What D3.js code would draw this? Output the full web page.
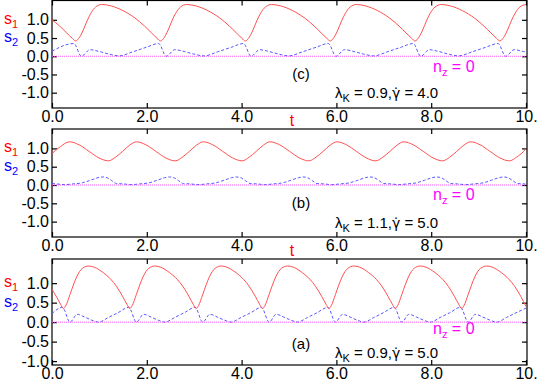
<!DOCTYPE html>
<html>
<head>
<meta charset="utf-8">
<script src="https://cdn.jsdelivr.net/npm/d3@7"></script>
<style>
  body { margin: 0; background: #fff; }
  text { font-family: "Liberation Sans", Arial, sans-serif; }
</style>
</head>
<body>
<div id="chart"></div>
<script>
var svgWidth = 554;
var svgHeight = 388;

// Axis ticks
var tTicks = [0, 2, 4, 6, 8, 10];
var tTickLabels = ["0.0", "2.0", "4.0", "6.0", "8.0", "10."];
var sTicks = [-1, -0.5, 0, 0.5, 1];
var sTickLabels = ["-1.0", "-0.5", "0.0", "0.5", "1.0"];

// Panel annotations, top to bottom
var panelTags = ["(c)", "(b)", "(a)"];
var lambdaK = ["0.9", "1.1", "0.9"];
var gammaDot = ["4.0", "5.0", "5.0"];

// Panel (c): lambda_K = 0.9, gamma-dot = 4.0   [t, value]
var cS1 = [[0,1.00],[0.16,0.83],[0.31,0.64],[0.43,0.49],
  [0.50,0.42],[0.58,0.52],[0.66,0.72],[0.74,0.97],[0.82,1.18],[0.92,1.35],[1.05,1.42],[1.25,1.38],[1.50,1.25],[1.75,1.05],[1.95,0.83],[2.10,0.64],[2.22,0.49],
  [2.29,0.42],[2.37,0.52],[2.45,0.72],[2.53,0.97],[2.61,1.18],[2.71,1.35],[2.84,1.42],[3.04,1.38],[3.29,1.25],[3.54,1.05],[3.74,0.83],[3.89,0.64],[4.01,0.49],
  [4.08,0.42],[4.16,0.52],[4.24,0.72],[4.32,0.97],[4.40,1.18],[4.50,1.35],[4.63,1.42],[4.83,1.38],[5.08,1.25],[5.33,1.05],[5.53,0.83],[5.68,0.64],[5.80,0.49],
  [5.87,0.42],[5.95,0.52],[6.03,0.72],[6.11,0.97],[6.19,1.18],[6.29,1.35],[6.42,1.42],[6.62,1.38],[6.87,1.25],[7.12,1.05],[7.32,0.83],[7.47,0.64],[7.59,0.49],
  [7.66,0.42],[7.74,0.52],[7.82,0.72],[7.90,0.97],[7.98,1.18],[8.08,1.35],[8.21,1.42],[8.41,1.38],[8.66,1.25],[8.91,1.05],[9.11,0.83],[9.26,0.64],[9.38,0.49],
  [9.45,0.42],[9.53,0.52],[9.61,0.72],[9.69,0.97],[9.77,1.18],[9.87,1.35],[10.0,1.42]];
var cS2 = [[0,0.14],
  [0.46,0.35],[0.62,0.00],[0.80,0.18],[1.00,0.13],[1.20,0.06],[1.42,0.01],[1.70,0.12],[2.00,0.25],
  [2.25,0.35],[2.41,0.00],[2.59,0.18],[2.79,0.13],[2.99,0.06],[3.21,0.01],[3.49,0.12],[3.79,0.25],
  [4.04,0.35],[4.20,0.00],[4.38,0.18],[4.58,0.13],[4.78,0.06],[5.00,0.01],[5.28,0.12],[5.58,0.25],
  [5.83,0.35],[5.99,0.00],[6.17,0.18],[6.37,0.13],[6.57,0.06],[6.79,0.01],[7.07,0.12],[7.37,0.25],
  [7.62,0.35],[7.78,0.00],[7.96,0.18],[8.16,0.13],[8.36,0.06],[8.58,0.01],[8.86,0.12],[9.16,0.25],
  [9.41,0.35],[9.57,0.00],[9.75,0.18],[9.95,0.13],[10.0,0.12]];

// Panel (b): lambda_K = 1.1, gamma-dot = 5.0
var bS1 = [[0,0.86],[0.15,1.02],
  [0.37,1.18],[0.57,1.10],[0.78,0.92],[0.99,0.74],[1.19,0.66],[1.34,0.76],[1.49,0.92],[1.64,1.09],
  [1.78,1.18],[1.98,1.10],[2.19,0.92],[2.40,0.74],[2.60,0.66],[2.75,0.76],[2.90,0.92],[3.05,1.09],
  [3.19,1.18],[3.39,1.10],[3.60,0.92],[3.81,0.74],[4.01,0.66],[4.16,0.76],[4.31,0.92],[4.46,1.09],
  [4.60,1.18],[4.80,1.10],[5.01,0.92],[5.22,0.74],[5.42,0.66],[5.57,0.76],[5.72,0.92],[5.87,1.09],
  [6.01,1.18],[6.21,1.10],[6.42,0.92],[6.63,0.74],[6.83,0.66],[6.98,0.76],[7.13,0.92],[7.28,1.09],
  [7.42,1.18],[7.62,1.10],[7.83,0.92],[8.04,0.74],[8.24,0.66],[8.39,0.76],[8.54,0.92],[8.69,1.09],
  [8.83,1.18],[9.03,1.10],[9.24,0.92],[9.45,0.74],[9.65,0.66],[9.80,0.76],[9.95,0.92],[10.0,1.00]];
var bS2 = [[0,0.04],[0.10,0.03],[0.27,0.01],
  [0.44,0.03],[0.64,0.06],[0.81,0.13],[0.97,0.20],[1.07,0.22],[1.16,0.20],[1.26,0.12],[1.36,0.04],[1.51,0.03],[1.67,0.01],
  [1.85,0.03],[2.05,0.06],[2.22,0.13],[2.38,0.20],[2.48,0.22],[2.57,0.20],[2.67,0.12],[2.77,0.04],[2.92,0.03],[3.08,0.01],
  [3.26,0.03],[3.46,0.06],[3.63,0.13],[3.79,0.20],[3.89,0.22],[3.98,0.20],[4.08,0.12],[4.18,0.04],[4.33,0.03],[4.49,0.01],
  [4.67,0.03],[4.87,0.06],[5.04,0.13],[5.20,0.20],[5.30,0.22],[5.39,0.20],[5.49,0.12],[5.59,0.04],[5.74,0.03],[5.90,0.01],
  [6.08,0.03],[6.28,0.06],[6.45,0.13],[6.61,0.20],[6.71,0.22],[6.80,0.20],[6.90,0.12],[7.00,0.04],[7.15,0.03],[7.31,0.01],
  [7.49,0.03],[7.69,0.06],[7.86,0.13],[8.02,0.20],[8.12,0.22],[8.21,0.20],[8.31,0.12],[8.41,0.04],[8.56,0.03],[8.72,0.01],
  [8.90,0.03],[9.10,0.06],[9.27,0.13],[9.43,0.20],[9.53,0.22],[9.62,0.20],[9.72,0.12],[9.82,0.04],[9.97,0.03],[10.0,0.02]];

// Panel (a): lambda_K = 0.9, gamma-dot = 5.0
var aS1 = [[0,0.84],[0.10,0.64],[0.18,0.46],
  [0.24,0.35],[0.29,0.42],[0.38,0.71],[0.45,0.95],[0.52,1.16],[0.64,1.38],[0.77,1.44],[0.89,1.41],[1.08,1.27],[1.24,1.10],[1.36,0.92],[1.49,0.66],[1.58,0.46],
  [1.64,0.35],[1.69,0.42],[1.78,0.71],[1.85,0.95],[1.92,1.16],[2.04,1.38],[2.17,1.44],[2.29,1.41],[2.48,1.27],[2.64,1.10],[2.76,0.92],[2.89,0.66],[2.98,0.46],
  [3.04,0.35],[3.09,0.42],[3.18,0.71],[3.25,0.95],[3.32,1.16],[3.44,1.38],[3.57,1.44],[3.69,1.41],[3.88,1.27],[4.04,1.10],[4.16,0.92],[4.29,0.66],[4.38,0.46],
  [4.44,0.35],[4.49,0.42],[4.58,0.71],[4.65,0.95],[4.72,1.16],[4.84,1.38],[4.97,1.44],[5.09,1.41],[5.28,1.27],[5.44,1.10],[5.56,0.92],[5.69,0.66],[5.78,0.46],
  [5.84,0.35],[5.89,0.42],[5.98,0.71],[6.05,0.95],[6.12,1.16],[6.24,1.38],[6.37,1.44],[6.49,1.41],[6.68,1.27],[6.84,1.10],[6.96,0.92],[7.09,0.66],[7.18,0.46],
  [7.24,0.35],[7.29,0.42],[7.38,0.71],[7.45,0.95],[7.52,1.16],[7.64,1.38],[7.77,1.44],[7.89,1.41],[8.08,1.27],[8.24,1.10],[8.36,0.92],[8.49,0.66],[8.58,0.46],
  [8.64,0.35],[8.69,0.42],[8.78,0.71],[8.85,0.95],[8.92,1.16],[9.04,1.38],[9.17,1.44],[9.29,1.41],[9.48,1.27],[9.64,1.10],[9.76,0.92],[9.89,0.66],[10.0,0.40]];
var aS2 = [[0,0.22],
  [0.22,0.38],[0.38,0.00],[0.53,0.20],[0.69,0.13],[0.84,0.05],[0.98,0.00],[1.19,0.12],[1.39,0.24],
  [1.62,0.38],[1.78,0.00],[1.93,0.20],[2.09,0.13],[2.24,0.05],[2.38,0.00],[2.59,0.12],[2.79,0.24],
  [3.02,0.38],[3.18,0.00],[3.33,0.20],[3.49,0.13],[3.64,0.05],[3.78,0.00],[3.99,0.12],[4.19,0.24],
  [4.42,0.38],[4.58,0.00],[4.73,0.20],[4.89,0.13],[5.04,0.05],[5.18,0.00],[5.39,0.12],[5.59,0.24],
  [5.82,0.38],[5.98,0.00],[6.13,0.20],[6.29,0.13],[6.44,0.05],[6.58,0.00],[6.79,0.12],[6.99,0.24],
  [7.22,0.38],[7.38,0.00],[7.53,0.20],[7.69,0.13],[7.84,0.05],[7.98,0.00],[8.19,0.12],[8.39,0.24],
  [8.62,0.38],[8.78,0.00],[8.93,0.20],[9.09,0.13],[9.24,0.05],[9.38,0.00],[9.59,0.12],[9.79,0.24],
  [10.0,0.36]];

// n_z stays at zero
var nzLine = [[0, 0], [10, 0]];

var s1Series = [cS1, bS1, aS1];
var s2Series = [cS2, bS2, aS2];

// Layout of the three stacked panels (pixels)
var left = 52, right = 527;
var panels = [
  { top: 0.5, bottom: 108, domain: [-1.42, 1.53], nzDy: 16, parY: 98 },
  { top: 129, bottom: 237, domain: [-1.42, 1.53], nzDy: 15, parY: 228 },
  { top: 259, bottom: 365, domain: [-1.10, 1.62], nzDy: 12, parY: 358 }
];

var svg = d3.select("#chart")
  .append("svg")
  .attr("width", svgWidth)
  .attr("height", svgHeight);

var xScale = d3.scaleLinear().domain([0, 10]).range([left, right - 1]);

panels.forEach(function(p, i) {
  var yScale = d3.scaleLinear().domain(p.domain).range([p.bottom, p.top]);
  var g = svg.append("g");

  // frame
  g.append("rect")
    .attr("x", left).attr("y", p.top)
    .attr("width", right - left).attr("height", p.bottom - p.top)
    .attr("fill", "none").attr("stroke", "#000").attr("stroke-width", 1.2);

  // axes with inward ticks
  var bottomAxis = d3.axisBottom(xScale).tickValues(tTicks)
    .tickFormat(function(d, k) { return tTickLabels[k]; })
    .tickSizeInner(-5).tickSizeOuter(0).tickPadding(3);
  var topAxis = d3.axisTop(xScale).tickValues(tTicks).tickFormat("")
    .tickSizeInner(-5).tickSizeOuter(0);
  var leftAxis = d3.axisLeft(yScale).tickValues(sTicks)
    .tickFormat(function(d, k) { return sTickLabels[k]; })
    .tickSizeInner(-5).tickSizeOuter(0).tickPadding(3);
  var rightAxis = d3.axisRight(yScale).tickValues(sTicks).tickFormat("")
    .tickSizeInner(-5).tickSizeOuter(0);

  [[bottomAxis, "translate(0," + p.bottom + ")"],
   [topAxis, "translate(0," + p.top + ")"],
   [leftAxis, "translate(" + left + ",0)"],
   [rightAxis, "translate(" + right + ",0)"]].forEach(function(a) {
    var ag = g.append("g").attr("transform", a[1]).call(a[0]);
    ag.select(".domain").remove();
    ag.selectAll(".tick line").attr("stroke", "#000").attr("stroke-width", 1.2);
    ag.selectAll(".tick text").attr("font-size", 16).attr("fill", "#000")
      .style("font-family", "'Liberation Sans', Arial, sans-serif");
  });

  var line = d3.line()
    .x(function(d) { return xScale(d[0]); })
    .y(function(d) { return yScale(d[1]); })
    .curve(d3.curveMonotoneX);

  g.append("path").datum(nzLine).attr("d", line)
    .attr("fill", "none").attr("stroke", "#ff55ff").attr("stroke-width", 1)
    .attr("stroke-dasharray", "1,1");
  g.append("path").datum(s2Series[i]).attr("d", line)
    .attr("fill", "none").attr("stroke", "#5858ff").attr("stroke-width", 1)
    .attr("stroke-dasharray", "3,2");
  g.append("path").datum(s1Series[i]).attr("d", line)
    .attr("fill", "none").attr("stroke", "#ff5050").attr("stroke-width", 1);

  // s1 / s2 legend on the left
  var s1 = g.append("text").attr("x", 4).attr("y", yScale(1) + 4)
    .attr("font-size", 16).attr("fill", "#ff0000");
  s1.append("tspan").text("s");
  s1.append("tspan").attr("dy", 4).attr("font-size", 11).text("1");
  var s2 = g.append("text").attr("x", 4).attr("y", yScale(0.5) + 4)
    .attr("font-size", 16).attr("fill", "#0000ff");
  s2.append("tspan").text("s");
  s2.append("tspan").attr("dy", 4).attr("font-size", 11).text("2");

  // n_z = 0
  var nz = g.append("text").attr("x", 433).attr("y", yScale(0) + p.nzDy)
    .attr("font-size", 16).attr("fill", "#ff00ff");
  nz.append("tspan").text("n");
  nz.append("tspan").attr("dy", 4).attr("font-size", 11).text("z");
  nz.append("tspan").attr("dy", -4).text(" = 0");

  // panel tag
  var tagY = i === 2 ? yScale(-0.55) : yScale(-0.5);
  g.append("text").attr("x", 301).attr("y", tagY + 5)
    .attr("text-anchor", "middle").attr("font-size", 15).text(panelTags[i]);

  // parameters: lambda_K = .., gamma-dot = ..
  var par = g.append("text").attr("x", 335).attr("y", p.parY)
    .attr("font-size", 15).attr("fill", "#000");
  par.append("tspan").text("\u03bb");
  par.append("tspan").attr("dy", 4).attr("font-size", 11).text("K");
  par.append("tspan").attr("dy", -4).text(" = " + lambdaK[i] + ",");
  par.append("tspan").style("font-family", "'DejaVu Sans', sans-serif")
    .attr("font-size", 14).text("\u03b3\u0307");
  par.append("tspan").text(" = " + gammaDot[i]);
});

// t axis labels between panels
[126, 256].forEach(function(y) {
  svg.append("text").attr("x", 292).attr("y", y)
    .attr("text-anchor", "middle").attr("font-size", 16).attr("fill", "#ff0000").text("t");
});
</script>
</body>
</html>
